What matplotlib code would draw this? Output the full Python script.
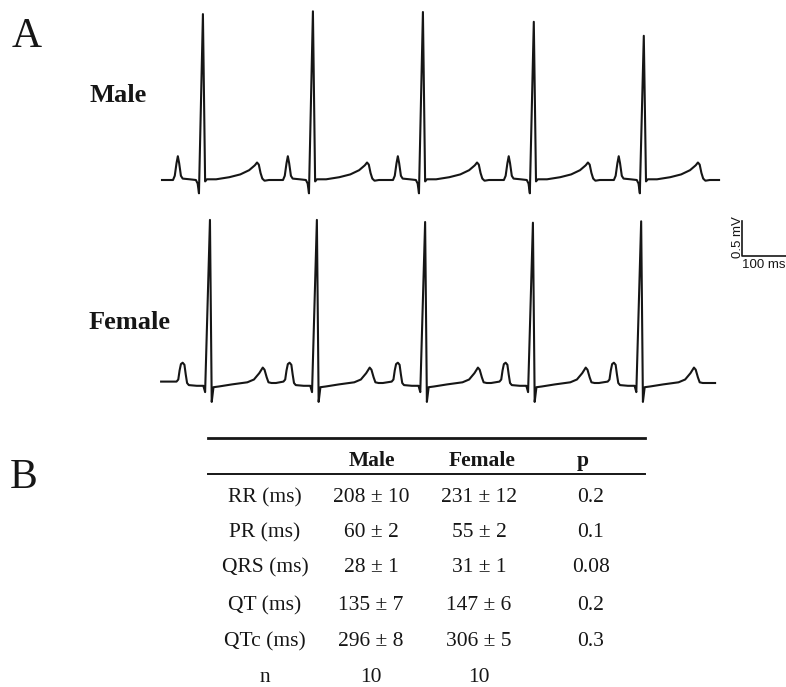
import matplotlib
matplotlib.use("Agg")
import matplotlib.pyplot as plt
import numpy as np

# ---------------- ECG data (ms relative to R peak, mV) ----------------
male_r_times = [93, 343, 593, 845, 1095]          # R-peak times (ms)
male_r_amp = [2.37, 2.41, 2.40, 2.26, 2.06]        # R amplitude (mV)
male_t_end = 1266

male_beat_t = [-68, -64, -60, -57, -54, -50, -46, -30, -16, -12, -9, 0,
               5, 9, 30, 60, 85, 105, 118, 123, 127, 131, 135, 140, 150]
male_beat_v = [0.0, 0.06, 0.24, 0.34, 0.24, 0.06, 0.02, 0.01, 0.0, -0.05, -0.19, None,
               -0.02, 0.01, 0.01, 0.04, 0.08, 0.14, 0.21, 0.25, 0.22, 0.10, 0.02, -0.01, 0.0]

female_r_times = [109, 352, 598, 843, 1089]
female_r_amp = [2.33, 2.33, 2.30, 2.29, 2.31]
female_t_start = -2
female_t_end = 1257

female_beat_t = [-76, -72, -69, -66, -62, -58, -55, -52, -48, -30, -15, -11, 0,
                 4, 8, 20, 50, 85, 100, 112, 120, 124, 129, 133, 140, 150]
female_beat_v = [0.02, 0.05, 0.18, 0.27, 0.29, 0.26, 0.12, 0.0, -0.03, -0.04, -0.04, -0.13, None,
                 -0.27, -0.06, -0.05, -0.02, 0.01, 0.05, 0.14, 0.22, 0.19, 0.08, 0.01, 0.0, 0.0]

# ---------------- table data ----------------
col_headers = ["Male", "Female", "p"]
row_labels = ["RR (ms)", "PR (ms)", "QRS (ms)", "QT (ms)", "QTc (ms)", "n"]
male_vals = ["208 ± 10", "60 ± 2", "28 ± 1", "135 ± 7", "296 ± 8", "10"]
female_vals = ["231 ± 12", "55 ± 2", "31 ± 1", "147 ± 6", "306 ± 5", "10"]
p_vals = ["0.2", "0.1", "0.08", "0.2", "0.3", ""]


def build_trace(t0, t1, r_times, r_amps, beat_t, beat_v):
    t = [t0]
    v = [beat_v[0]]
    for rt, ra in zip(r_times, r_amps):
        for bt, bv in zip(beat_t, beat_v):
            t.append(rt + bt)
            v.append(ra if bv is None else bv)
    t.append(t1)
    v.append(beat_v[-1])
    return np.array(t), np.array(v)


W, H = 786, 687
ink = "#161616"
fig = plt.figure(figsize=(W / 100, H / 100), dpi=100)
serif = ["Liberation Serif", "DejaVu Serif"]
sans = ["Liberation Sans", "DejaVu Sans"]

# --- page-level axes in pixel units for labels and the table ---
page = fig.add_axes([0, 0, 1, 1])
page.set_xlim(0, W)
page.set_ylim(H, 0)
page.axis("off")

# --- ECG axes: 0.44 px per ms, 70 px per mV ---
px_ms, px_mv = 0.44, 70.0
x0_px, base_m_px, base_f_px = 162, 180, 383
ax_l, ax_r, ax_t, ax_b = 150, 786, 0, 420
ecg = fig.add_axes([ax_l / W, 1 - ax_b / H, (ax_r - ax_l) / W, (ax_b - ax_t) / H])
ecg.set_xlim((ax_l - x0_px) / px_ms, (ax_r - x0_px) / px_ms)
ecg.set_ylim((base_m_px - ax_b) / px_mv, (base_m_px - ax_t) / px_mv)
ecg.axis("off")

female_offset = (base_m_px - base_f_px) / px_mv

tm, vm = build_trace(0, male_t_end, male_r_times, male_r_amp, male_beat_t, male_beat_v)
tf, vf = build_trace(female_t_start, female_t_end, female_r_times, female_r_amp,
                     female_beat_t, female_beat_v)
ecg.plot(tm, vm, color=ink, lw=1.5, solid_joinstyle="round")
ecg.plot(tf, vf + female_offset, color=ink, lw=1.5, solid_joinstyle="round")

# scale bar: 0.5 mV x 100 ms
sb_x = (742 - x0_px) / px_ms
sb_y = (base_m_px - 256) / px_mv
ecg.plot([sb_x, sb_x, sb_x + 100], [sb_y + 0.5, sb_y, sb_y], color=ink,
         lw=1.2, clip_on=False)
ecg.text(sb_x + 1, sb_y - 0.05, "100 ms", family=sans, fontsize=9.5,
         ha="left", va="top", color=ink)
ecg.text(sb_x - 10, sb_y + 0.27, "0.5 mV", family=sans, fontsize=9.5,
         rotation=90, ha="center", va="center", color=ink)

# panel letters and trace labels
page.text(12, 47, "A", family=serif, fontsize=30, va="baseline", color=ink)
page.text(10, 488, "B", family=serif, fontsize=30, va="baseline", color=ink)
page.text(90, 102, "Male", family=serif, fontsize=19, fontweight="bold",
          va="baseline", color=ink)
page.text(89, 329, "Female", family=serif, fontsize=19, fontweight="bold",
          va="baseline", color=ink)

# table
page.plot([208, 645], [438, 438], color=ink, lw=2.0)
page.plot([208, 645], [474, 474], color=ink, lw=1.4)
hdr_x = [372, 482, 583]
for hx, h in zip(hdr_x, col_headers):
    page.text(hx, 466, h, family=serif, fontsize=15.5, fontweight="bold",
              ha="center", va="baseline", color=ink)

row_base = [502, 537, 572, 610, 646, 682]
col_x = [265, 371, 479, 591]
for yb, lab, m, f, p in zip(row_base, row_labels, male_vals, female_vals, p_vals):
    for cx, s in zip(col_x, [lab, m, f, p]):
        page.text(cx, yb, s, family=serif, fontsize=15.5, ha="center",
                  va="baseline", color=ink)

fig.savefig("out.png", dpi=100, facecolor="white")
